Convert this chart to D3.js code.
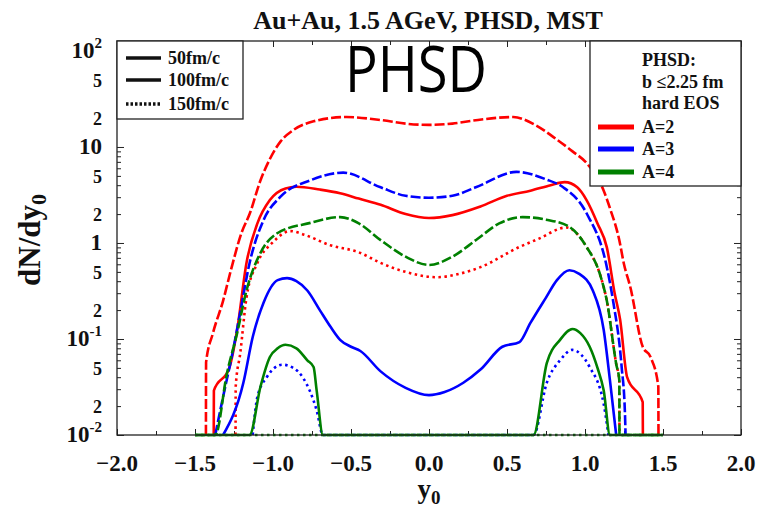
<!DOCTYPE html>
<html>
<head>
<meta charset="utf-8">
<script src="https://cdn.jsdelivr.net/npm/d3@7"></script>
<style>
  body { margin: 0; background: #fff; }
  svg text { font-family: "Liberation Serif", "Times New Roman", serif; font-weight: bold; fill: #111; }
</style>
</head>
<body>
<svg id="chart" width="758" height="507"></svg>
<script>
// dN/dy0 vs y0 ([y0, dN/dy0]); 0.01 = floor of the plot
const redSolid = [[-1.38,0.01],[-1.379,0.029],[-1.28,0.05],[-1.23,0.124],[-1.17,0.62],[-1.10,1.6],[-1.02,2.8],[-0.92,3.7],[-0.85,3.85],[-0.7,3.6],[-0.57,3.3],[-0.45,2.9],[-0.31,2.5],[-0.15,2.0],[0,1.82],[0.15,1.95],[0.33,2.4],[0.5,3.1],[0.65,3.5],[0.78,4.0],[0.87,4.3],[0.95,3.8],[1.01,2.8],[1.08,1.6],[1.14,0.9],[1.19,0.3],[1.225,0.16],[1.27,0.04],[1.37,0.022],[1.371,0.01]];
const redDashed = [[-1.43,0.01],[-1.429,0.057],[-1.385,0.115],[-1.32,0.25],[-1.27,0.52],[-1.2,1.3],[-1.15,2.0],[-1.08,4.5],[-1.02,7.5],[-0.95,11.5],[-0.87,15],[-0.74,18.5],[-0.53,20.5],[-0.3,19],[-0.15,17.5],[0,17],[0.15,17.5],[0.3,19],[0.54,20.5],[0.68,17],[0.8,12.6],[0.92,9],[1.01,6.8],[1.12,3.5],[1.16,2.3],[1.22,1.07],[1.25,0.6],[1.29,0.35],[1.37,0.083],[1.42,0.065],[1.47,0.032],[1.471,0.01]];
const redDotted = [[-1.24,0.01],[-1.239,0.032],[-1.21,0.071],[-1.17,0.27],[-1.1,0.62],[-1.0,1.02],[-0.89,1.33],[-0.8,1.22],[-0.635,0.95],[-0.45,0.8],[-0.31,0.62],[-0.15,0.5],[0.05,0.44],[0.2,0.48],[0.33,0.56],[0.58,0.91],[0.7,1.1],[0.88,1.45],[1.01,0.91],[1.1,0.45],[1.14,0.25],[1.2,0.055],[1.22,0.037],[1.221,0.01]];
const blueSolid = [[-1.32,0.01],[-1.19,0.035],[-1.13,0.105],[-1.06,0.24],[-0.97,0.41],[-0.91,0.43],[-0.85,0.4],[-0.78,0.32],[-0.7,0.2],[-0.63,0.133],[-0.57,0.098],[-0.5,0.083],[-0.44,0.075],[-0.31,0.046],[-0.15,0.031],[0,0.026],[0.1,0.028],[0.22,0.035],[0.33,0.048],[0.47,0.083],[0.58,0.093],[0.65,0.147],[0.75,0.27],[0.82,0.41],[0.9,0.52],[0.96,0.48],[1.05,0.32],[1.12,0.124],[1.16,0.037],[1.2,0.01]];
const blueDashed = [[-1.37,0.01],[-1.32,0.025],[-1.26,0.071],[-1.21,0.19],[-1.15,0.62],[-1.06,1.74],[-0.955,3.0],[-0.76,4.5],[-0.55,5.4],[-0.31,3.8],[-0.15,3.1],[0,2.96],[0.15,3.1],[0.3,3.8],[0.56,5.5],[0.75,4.6],[0.86,3.8],[1.01,2.04],[1.14,0.56],[1.18,0.25],[1.235,0.051],[1.256,0.017],[1.26,0.01]];
const blueDotted = [[-1.13,0.01],[-1.10,0.025],[-1.04,0.04],[-0.94,0.054],[-0.87,0.05],[-0.81,0.04],[-0.72,0.018],[-0.68,0.01],[0.67,0.01],[0.755,0.035],[0.84,0.06],[0.92,0.077],[0.97,0.07],[1.03,0.051],[1.12,0.021],[1.15,0.01]];
const greenSolid = [[-1.5,0.01],[-1.15,0.01],[-1.08,0.032],[-1.02,0.065],[-0.97,0.08],[-0.92,0.087],[-0.85,0.08],[-0.78,0.06],[-0.74,0.051],[-0.72,0.029],[-0.68,0.01],[0.67,0.01],[0.755,0.056],[0.84,0.098],[0.92,0.127],[0.97,0.115],[1.03,0.083],[1.08,0.05],[1.12,0.029],[1.16,0.01],[1.5,0.01]];
const greenDashed = [[-1.5,0.01],[-1.37,0.01],[-1.295,0.044],[-1.23,0.115],[-1.17,0.32],[-1.08,0.79],[-0.97,1.27],[-0.76,1.62],[-0.57,1.86],[-0.45,1.6],[-0.31,1.07],[-0.15,0.72],[0,0.59],[0.15,0.72],[0.31,1.1],[0.45,1.6],[0.6,1.86],[0.75,1.75],[0.9,1.47],[1.01,0.91],[1.1,0.45],[1.14,0.25],[1.2,0.055],[1.22,0.037],[1.221,0.01],[1.5,0.01]];
const greenDotted = [[-1.5,0.01],[1.5,0.01]];

const xMajor = [-2, -1.5, -1, -0.5, 0, 0.5, 1, 1.5, 2];
const xMinor = [-1.75, -1.25, -0.75, -0.25, 0.25, 0.75, 1.25, 1.75];
const yDecades = [0.01, 0.1, 1, 10, 100];
const yMinor = [0.02,0.03,0.04,0.05,0.06,0.07,0.08,0.09,0.2,0.3,0.4,0.5,0.6,0.7,0.8,0.9,2,3,4,5,6,7,8,9,20,30,40,50,60,70,80,90];
const yLabels = [0.01, 0.02, 0.05, 0.1, 0.2, 0.5, 1, 2, 5, 10, 20, 50, 100];

const timeLegend = ["50fm/c", "100fm/c", "150fm/c"];
const massLegend = ["A=2", "A=3", "A=4"];
const massColors = ["#ff0000", "#0000ff", "#008000"];

const plotLeft = 117, plotRight = 741, plotTop = 41, plotBottom = 435;

let svg = d3.select("#chart");

let x = d3.scaleLinear().domain([-2, 2]).range([plotLeft, plotRight]);
let y = d3.scaleLog().domain([0.01, 127]).range([plotBottom, plotTop]);

const dashes = { solid: null, dashed: "10,3", dotted: "2.5,3.5" };

// ticks, all pointing inward
function tickAxis(axisFn, scale, vals, size, tx, ty) {
  let g = svg.append("g")
    .attr("transform", "translate(" + tx + "," + ty + ")")
    .call(axisFn(scale).tickValues(vals).tickSize(size).tickFormat(""));
  g.select(".domain").remove();
  g.selectAll("line").attr("stroke", "#222").attr("stroke-width", 1);
  return g;
}
tickAxis(d3.axisBottom, x, xMajor, -6, 0, plotBottom);
tickAxis(d3.axisBottom, x, xMinor, -4, 0, plotBottom);
tickAxis(d3.axisTop, x, xMajor, -6, 0, plotTop);
tickAxis(d3.axisTop, x, xMinor, -4, 0, plotTop);
tickAxis(d3.axisLeft, y, yDecades, -7, plotLeft, 0);
tickAxis(d3.axisLeft, y, yMinor, -4, plotLeft, 0);
tickAxis(d3.axisRight, y, yDecades, -7, plotRight, 0);
tickAxis(d3.axisRight, y, yMinor, -4, plotRight, 0);

// x tick labels
svg.append("g").selectAll("text")
  .data(xMajor)
  .join("text")
  .attr("x", d => x(d))
  .attr("y", 471)
  .attr("text-anchor", "middle")
  .attr("font-size", 23)
  .text(d => d3.format(".1f")(d));

// y tick labels
svg.append("g").selectAll("text")
  .data(yLabels)
  .join("text")
  .attr("x", 102)
  .attr("y", d => y(d) + 7)
  .attr("text-anchor", "end")
  .attr("font-size", d => yDecades.includes(d) ? 23 : 18)
  .each(function(d) {
    let t = d3.select(this);
    let e = Math.round(Math.log10(d));
    if (yDecades.includes(d) && (e < 0 || e > 1)) {
      t.append("tspan").text("10");
      t.append("tspan").attr("dy", -10).attr("font-size", 15).text(e);
    } else if (d === 1 || d === 10) {
      t.text(d);
    } else {
      t.text(String(d).replace(/[0.]/g, ""));
    }
  });

// curves
const curves = [
  { data: redDashed, color: massColors[0], dash: "dashed" },
  { data: redSolid, color: massColors[0], dash: "solid" },
  { data: redDotted, color: massColors[0], dash: "dotted" },
  { data: blueDashed, color: massColors[1], dash: "dashed" },
  { data: blueSolid, color: massColors[1], dash: "solid" },
  { data: blueDotted, color: massColors[1], dash: "dotted" },
  { data: greenDotted, color: massColors[2], dash: "dotted" },
  { data: greenDashed, color: massColors[2], dash: "dashed" },
  { data: greenSolid, color: massColors[2], dash: "solid" }
];

let line = d3.line()
  .x(d => x(d[0]))
  .y(d => y(d[1]))
  .curve(d3.curveMonotoneX);

svg.append("g").selectAll("path")
  .data(curves)
  .join("path")
  .attr("d", d => line(d.data))
  .attr("fill", "none")
  .attr("stroke", d => d.color)
  .attr("stroke-width", 2.6)
  .attr("stroke-dasharray", d => dashes[d.dash]);

// frame
svg.append("rect")
  .attr("x", plotLeft).attr("y", plotTop)
  .attr("width", plotRight - plotLeft).attr("height", plotBottom - plotTop)
  .attr("fill", "none").attr("stroke", "#222").attr("stroke-width", 1.3);

// time legend
svg.append("rect")
  .attr("x", plotLeft).attr("y", plotTop).attr("width", 126).attr("height", 78)
  .attr("fill", "#fff").attr("stroke", "#222").attr("stroke-width", 1.3);

let tl = svg.append("g").selectAll("g")
  .data(timeLegend)
  .join("g")
  .attr("transform", (d, i) => "translate(126," + [58, 80, 104][i] + ")");
tl.append("line")
  .attr("x1", 0).attr("x2", 35)
  .attr("stroke", "#111").attr("stroke-width", 3.4)
  .attr("stroke-dasharray", (d, i) => i === 2 ? "2.5,2" : null);
tl.append("text")
  .attr("x", 42).attr("y", 6)
  .attr("font-size", 18)
  .text(d => d);

// mass legend
svg.append("rect")
  .attr("x", 590).attr("y", plotTop).attr("width", plotRight - 590).attr("height", 145)
  .attr("fill", "#fff").attr("stroke", "#222").attr("stroke-width", 1.3);

svg.append("g").selectAll("text")
  .data(["PHSD:", "b \u22642.25 fm", "hard EOS"])
  .join("text")
  .attr("x", 642).attr("y", (d, i) => [66, 88, 109][i])
  .attr("font-size", 18)
  .text(d => d);

let ml = svg.append("g").selectAll("g")
  .data(massLegend)
  .join("g")
  .attr("transform", (d, i) => "translate(598," + [127, 149, 172][i] + ")");
ml.append("line")
  .attr("x1", 0).attr("x2", 36)
  .attr("stroke", (d, i) => massColors[i]).attr("stroke-width", 5);
ml.append("text")
  .attr("x", 44).attr("y", 6)
  .attr("font-size", 18)
  .text(d => d);

// title and labels
svg.append("text")
  .attr("x", 428).attr("y", 29)
  .attr("text-anchor", "middle")
  .attr("font-size", 26)
  .text("Au+Au, 1.5 AGeV, PHSD, MST");

svg.append("text")
  .attr("x", 345).attr("y", 92)
  .attr("font-size", 64)
  .attr("textLength", 142)
  .attr("lengthAdjust", "spacingAndGlyphs")
  .style("font-family", "'Open Sans', sans-serif")
  .style("font-weight", "normal")
  .style("fill", "#000")
  .text("PHSD");

let xt = svg.append("text")
  .attr("x", 429).attr("y", 498)
  .attr("text-anchor", "middle")
  .attr("font-size", 27);
xt.append("tspan").text("y");
xt.append("tspan").attr("dy", 6).attr("font-size", 19).text("0");

let yt = svg.append("text")
  .attr("transform", "translate(40,240) rotate(-90)")
  .attr("text-anchor", "middle")
  .attr("font-size", 31);
yt.append("tspan").text("dN/dy");
yt.append("tspan").attr("dy", 6).attr("font-size", 22).text("0");
</script>
</body>
</html>
